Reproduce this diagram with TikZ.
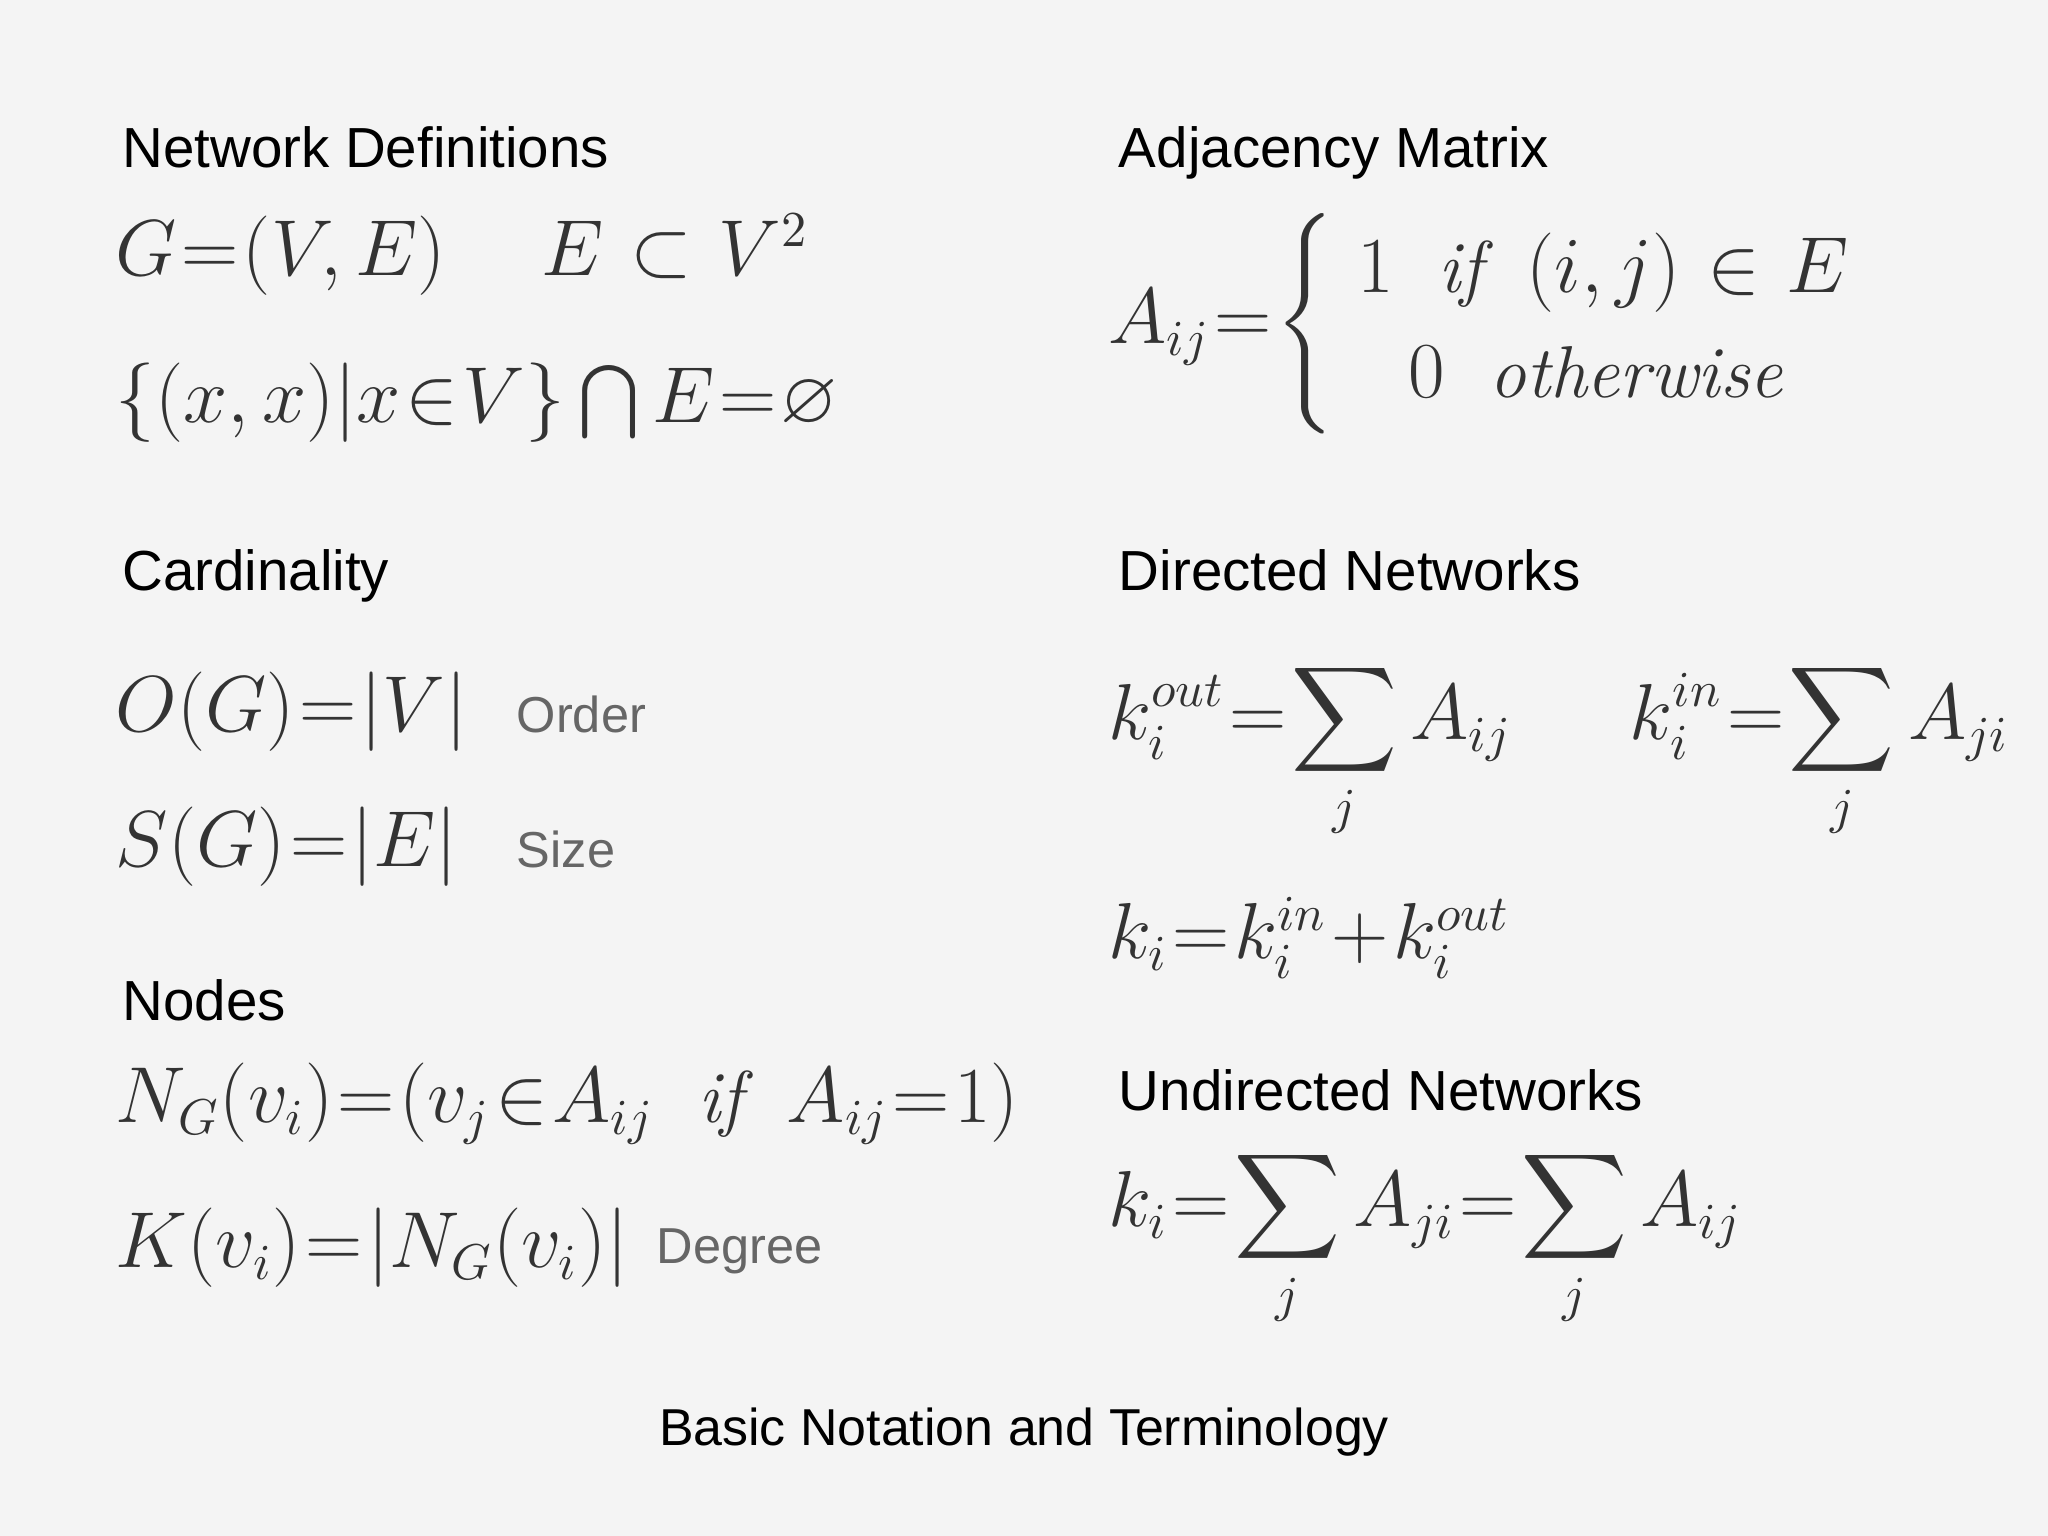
\documentclass[tikz,border=0pt]{standalone}
\usepackage{amsmath,amssymb}
\usepackage{fontspec}
\setsansfont{Liberation Sans}
\newcommand\mytight{\thickmuskip=1mu\relax\medmuskip=1mu\relax}
\begin{document}
\begin{tikzpicture}[x=0.01cm,y=-0.01cm,
  head/.style={anchor=base west,font=\sffamily\fontsize{12.3}{14}\selectfont,text=black,inner sep=0},
  lab/.style={anchor=west,font=\sffamily\fontsize{11}{13}\selectfont,text=black!60,inner sep=0},
  eq/.style={anchor=west,font=\fontsize{16}{19}\selectfont\mytight,text=black!80,inner sep=0}]
\fill[gray!9] (0,0) rectangle (1568,1176);
\useasboundingbox (0,0) rectangle (1568,1176);
\node[head] (h1) at (93,128) {Network Definitions};
\node[eq] (e1) at (88,195) {$G=(V,E)\quad\ E\ \subset\ V^2$};
\node[eq] (e2) at (88,308) {$\{(x,x)|x\in V\}\bigcap E=\varnothing$};
\node[head] (h2) at (856,128) {Adjacency Matrix};
\node[eq] (e3) at (848,248) {$A_{ij}=\begin{cases}\ 1\ \ \mathit{if}\ \ (i,j)\ \in\ E\\ \quad 0\ \ \mathit{otherwise}\end{cases}$};
\node[head] (h3) at (93,452) {Cardinality};
\node[head] (h4) at (856,452) {Directed Networks};
\node[eq] (e4) at (88,545) {$O(G)=|V|$};
\node[lab] (l1) at (395,547) {Order};
\node[eq] (e5) at (88,648) {$S(G)=|E|$};
\node[lab] (l2) at (395,650) {Size};
\node[head] (h5) at (93,781) {Nodes};
\node[eq] (e6) at (88,845) {$N_G(v_i)=(v_j\in A_{ij}\ \ \mathit{if}\ \ A_{ij}=1)$};
\node[eq] (e7) at (88,955) {$K(v_i)=|N_G(v_i)|$};
\node[lab] (l3) at (502,958) {Degree};
\node[eq] (e8) at (848,575) {$\displaystyle k_i^{out}=\sum_j A_{ij}\quad\ \ k_i^{in}=\sum_j A_{ji}$};
\node[eq] (e9) at (848,718) {$k_i=k_i^{in}+k_i^{out}$};
\node[head] (h6) at (856,850) {Undirected Networks};
\node[eq] (e10) at (848,948) {$\displaystyle k_i=\sum_j A_{ji}=\sum_j A_{ij}$};
\node[head,anchor=base,font=\sffamily\fontsize{11.3}{14}\selectfont] (cap) at (784,1107) {Basic Notation and Terminology};
\end{tikzpicture}
\end{document}
